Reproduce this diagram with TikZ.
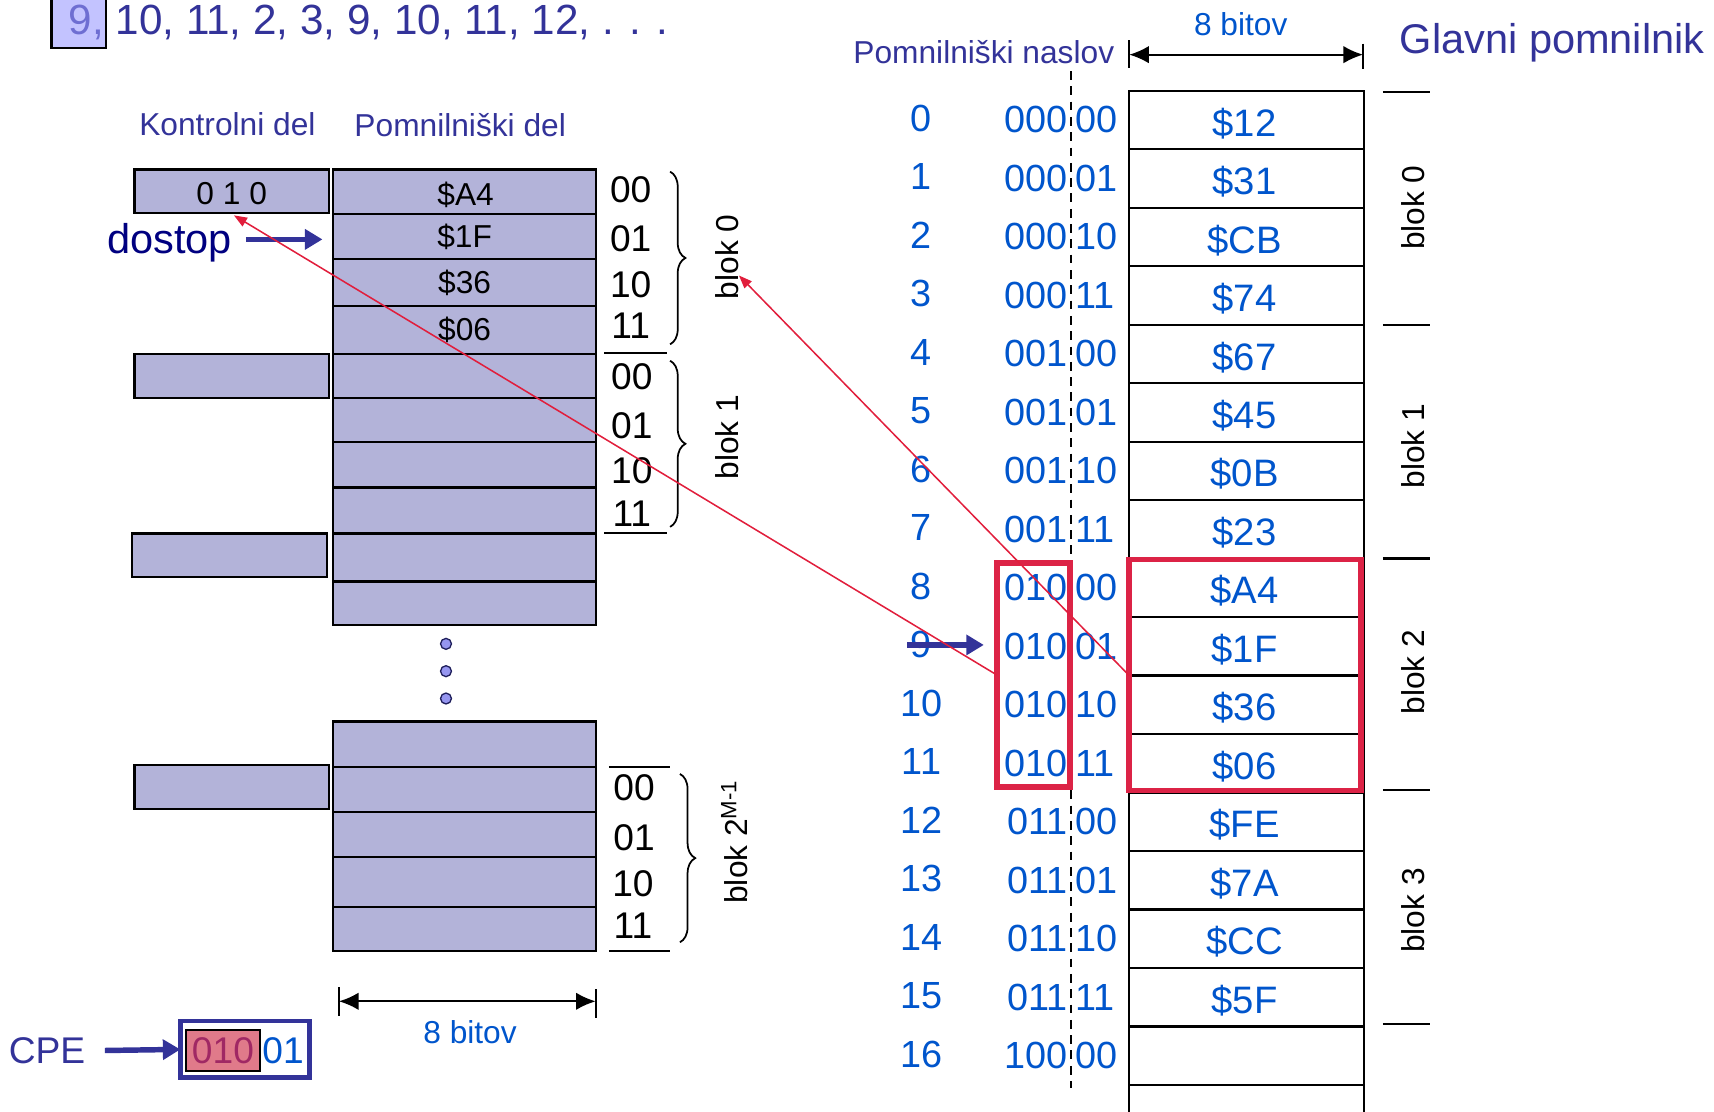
\documentclass[tikz,border=0pt]{standalone}
\usepackage{fontspec}
\setmainfont{Liberation Sans}
\usetikzlibrary{arrows.meta,decorations.pathreplacing}
\definecolor{navyT}{RGB}{51,51,153}
\definecolor{valblue}{RGB}{0,85,204}
\definecolor{cachefill}{RGB}{179,179,217}
\definecolor{redbox}{RGB}{220,35,70}
\definecolor{redline}{RGB}{225,30,60}
\definecolor{ninefill}{RGB}{195,195,255}
\definecolor{ninetext}{RGB}{110,110,210}
\definecolor{cpefill}{RGB}{224,122,138}
\definecolor{cpetext}{RGB}{160,40,100}
\definecolor{dostopc}{RGB}{0,0,128}
\definecolor{dotfill}{RGB}{150,150,240}
\newcommand\fs[1]{\fontsize{#1}{#1}\selectfont}
\newcommand\bx[7]{\node[#6, minimum width={(#4-#2)*0.5pt}, minimum height={(#5-#3)*0.5pt}] (#1) at ({(#2+#4)/2},{(#3+#5)/2}) {#7};}
\begin{document}
\begin{tikzpicture}[x=0.5pt,y=-0.5pt,
  every node/.style={inner sep=0pt, outer sep=0pt},
  cachecell/.style={draw, line width=1pt, fill=cachefill, font=\fs{14.5}},
  memcell/.style={draw, line width=1pt},
  memval/.style={font=\fs{17.5}, text=valblue},
  redframe/.style={draw=redbox, line width=2.5pt},
  offs/.style={font=\fs{17}},
  addr/.style={font=\fs{17.3}, text=valblue},
  blk/.style={font=\fs{14.5}, rotate=90},
  lbl/.style={font=\fs{14.5}, text=navyT},
  bluearrow/.style={draw=navyT, line width=2.5pt, -{Triangle[length=8pt,width=9pt]}},
  redarrow/.style={draw=redline, line width=0.7pt, -{Triangle[length=6pt,width=4.5pt]}},
  dimarrow/.style={line width=1pt, {Latex[length=9pt,width=8pt]}-{Latex[length=9pt,width=8pt]}},
  bracestyle/.style={decorate, decoration={brace, amplitude=7pt}, line width=0.8pt},
  dotstyle/.style={circle, draw=navyT!60!black, line width=0.6pt, fill=dotfill, minimum size=5pt}
]
\useasboundingbox (0,0) rectangle (1568,1017);

% top sequence
\bx{ninebox}{47}{-6}{97}{44}{draw, line width=1.2pt, fill=ninefill}{}
\node[anchor=base west, font=\fs{19.3}, text=navyT] (seq) at (63,32) {\textcolor{ninetext}{9,} 10, 11, 2, 3, 9, 10, 11, 12, . . .};

% headings of cache
\node[lbl] (kd) at (208,114) {Kontrolni del};
\node[lbl] (pd) at (421,114) {Pomnilniški del};

% cache control part
\bx{k0}{123}{155}{301}{195}{cachecell}{}
\node[font=\fs{14.5}] (k0t) at (212,177) {0 1 0};
\bx{k1}{123}{324}{301}{364}{cachecell}{}
\bx{k2}{121}{488}{299}{528}{cachecell}{}
\bx{k3}{123}{700}{301}{740}{cachecell}{}

% cache data part
\bx{c0}{305}{155}{545}{196}{cachecell}{}
\node[font=\fs{14.5}] (c0t) at (426,178) {\$A4};
\bx{c1}{305}{196}{545}{237}{cachecell}{\$1F}
\bx{c2}{305}{237}{545}{280}{cachecell}{\$36}
\bx{c3}{305}{280}{545}{324}{cachecell}{\$06}
\bx{c4}{305}{324}{545}{364}{cachecell}{}
\bx{c5}{305}{364}{545}{404}{cachecell}{}
\bx{c6}{305}{404}{545}{446}{cachecell}{}
\bx{c7}{305}{446}{545}{488}{cachecell}{}
\bx{c8}{305}{488}{545}{532}{cachecell}{}
\bx{c9}{305}{532}{545}{572}{cachecell}{}
\bx{e0}{305}{660}{545}{702}{cachecell}{}
\bx{e1}{305}{702}{545}{743}{cachecell}{}
\bx{e2}{305}{743}{545}{784}{cachecell}{}
\bx{e3}{305}{784}{545}{830}{cachecell}{}
\bx{e4}{305}{830}{545}{870}{cachecell}{}

% dots
\node[dotstyle] (dt1) at (408,589) {};
\node[dotstyle] (dt2) at (408,614) {};
\node[dotstyle] (dt3) at (408,639) {};

% offsets
\node[offs] (oa0) at (577,174) {00};
\node[offs] (oa1) at (577,218) {01};
\node[offs] (oa2) at (577,260) {10};
\node[offs] (oa3) at (577,298) {11};
\node[offs] (ob0) at (578,345) {00};
\node[offs] (ob1) at (578,389) {01};
\node[offs] (ob2) at (578,431) {10};
\node[offs] (ob3) at (578,470) {11};
\node[offs] (oc0) at (580,721) {00};
\node[offs] (oc1) at (580,766) {01};
\node[offs] (oc2) at (579,808) {10};
\node[offs] (oc3) at (579,847) {11};
\draw[line width=0.9pt] (553,323) -- (610,323);
\draw[line width=0.9pt] (553,488) -- (610,488);
\draw[line width=0.9pt] (557,702) -- (613,702);
\draw[line width=0.9pt] (557,870) -- (613,870);
\draw[bracestyle] (613,157) -- (613,315);
\draw[bracestyle] (613,330) -- (613,482);
\draw[bracestyle] (622,708) -- (622,862);
\node[blk] (lb0) at (665,235) {blok 0};
\node[blk] (lb1) at (665,400) {blok 1};
\node[blk] (lb2) at (672,770) {blok 2\textsuperscript{M-1}};

% dimension (cache)
\draw[line width=1pt] (310,903) -- (310,929);
\draw[line width=1pt] (545,905) -- (545,931);
\coordinate (dl1) at (310,916);
\coordinate (dl2) at (545,916);
\draw[dimarrow] (dl1) -- (dl2);
\node[font=\fs{14.5}, text=valblue] (bitsL) at (430,944) {8 bitov};

% dostop
\node[font=\fs{19}, text=dostopc] (dostop) at (155,222) {dostop};
\coordinate (da) at (225,219);
\coordinate (db) at (295,219);
\draw[bluearrow] (da) -- (db);

% CPE
\node[font=\fs{17}, text=navyT] (cpe) at (43,961) {CPE};
\bx{cpebox}{165}{934}{283}{986}{draw=navyT, line width=2.2pt, fill=white}{}
\bx{cpetag}{170}{942}{238}{980}{draw, line width=1pt, fill=cpefill, font=\fs{17}, text=cpetext}{010}
\node[font=\fs{17}, text=valblue, anchor=west] (cpeoff) at (240,961) {01};
\draw[bluearrow] ([xshift=9pt]cpe.east) -- (cpebox.west);

% main memory headings
\node[lbl] (pn) at (900,48) {Pomnilniški naslov};
\node[font=\fs{14.5}, text=valblue] (bitsR) at (1135,22) {8 bitov};
\node[font=\fs{19}, text=navyT] (gp) at (1420,39) {Glavni pomnilnik};
\draw[line width=1pt] (1033,37) -- (1033,62);
\draw[line width=1pt] (1247,40) -- (1247,63);
\coordinate (dr1) at (1033,50);
\coordinate (dr2) at (1247,50);
\draw[dimarrow] (dr1) -- (dr2);

% dashed separator
\draw[line width=0.8pt, dash pattern=on 4pt off 3pt] (980,65) -- (980,995);

% main memory cells
\foreach \v [count=\i from 0] in {\$12,\$31,\$CB,\$74,\$67,\$45,\$0B,\$23,\$A4,\$1F,\$36,\$06,\$FE,\$7A,\$CC,\$5F,{}} {
  \pgfmathsetmacro\tp{83+53.5*\i}
  \pgfmathsetmacro\bt{83+53.5*(\i+1)}
  \bx{m\i}{1033}{\tp}{1248}{\bt}{memcell}{}
  \node[memval] (v\i) at ([xshift=-1pt,yshift=-1.5pt]m\i.center) {\v};
}
\draw[line width=1pt] (m16.south west) -- (1033,1017);
\draw[line width=1pt] (m16.south east) -- (1248,1017);

% addresses
\foreach \hi/\lo [count=\i from 0] in {000/00,000/01,000/10,000/11,001/00,001/01,001/10,001/11,010/00,010/01,010/10,010/11,011/00,011/01,011/10,011/11,100/00} {
  \pgfmathsetmacro\cy{83+53.5*(\i+0.5)}
  \node[addr] (d\i) at (843,\cy-1.5) {\i};
  \node[addr, anchor=east] (h\i) at (977,\cy) {\hi};
  \node[addr, anchor=west] (l\i) at (984,\cy) {\lo};
}

% block markers of main memory
\foreach \yy in {84,297,511,723,937} \draw[line width=1pt] (1265,\yy) -- (1308,\yy);
\node[blk] (rb0) at (1293,190) {blok 0};
\node[blk] (rb1) at (1293,408) {blok 1};
\node[blk] (rb2) at (1293,615) {blok 2};
\node[blk] (rb3) at (1293,833) {blok 3};

% red frames
\bx{tagframe}{912}{515}{979}{720}{redframe}{}
\bx{blkframe}{1033}{512}{1245}{723}{redframe}{}

% arrow to address 9
\coordinate (na) at (830,590);
\coordinate (nb) at (900,590);
\draw[bluearrow] (na) -- (nb);

% red connectors
\coordinate (t1) at (676,252);
\draw[redarrow] (m10.north west) -- (t1);
\draw[redarrow] (tagframe.west) -- ([xshift=1pt,yshift=-1pt]k0.south);
\end{tikzpicture}
\end{document}
